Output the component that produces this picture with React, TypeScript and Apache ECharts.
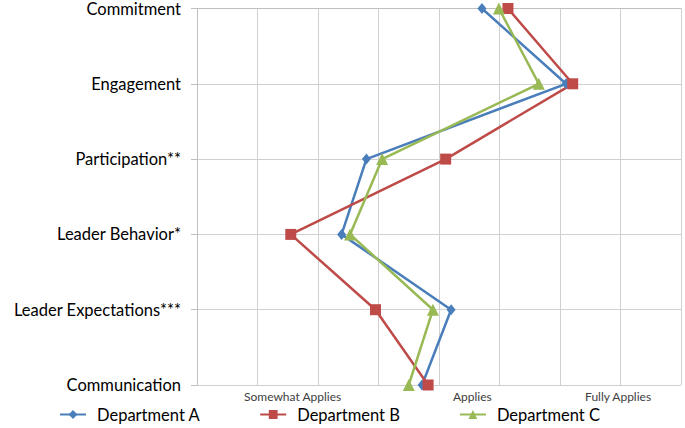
import React, { useEffect, useRef } from "react";
import * as echarts from "echarts";

const categories = [
  "Commitment",
  "Engagement",
  "Participation**",
  "Leader Behavior*",
  "Leader Expectations***",
  "Communication",
];
const deptA = [4.71, 6.1, 2.8, 2.39, 4.2, 3.72];
const deptB = [5.14, 6.21, 4.11, 1.55, 2.95, 3.82];
const deptC = [4.99, 5.65, 3.06, 2.53, 3.9, 3.5];
const seriesNames = ["Department A", "Department B", "Department C"];
const xLabelValues = [1.58, 4.55, 6.96];
const xLabelTexts = ["Somewhat Applies", "Applies", "Fully Applies"];

const colors = ["#4A7EBB", "#BE4B48", "#98B954"];
const symbols = ["diamond", "rect", "triangle"];
const symbolSizes = [[9, 11], 11, 12];

export default function App() {
  const ref = useRef<HTMLDivElement>(null);
  useEffect(() => {
    document.body.style.margin = "0";
    if (!ref.current) return;
    const chart = echarts.init(ref.current, null, { renderer: "svg" });
    const all = [deptA, deptB, deptC];
    const font = "Lato, 'Open Sans', sans-serif";
    chart.setOption({
      animation: false,
      textStyle: { fontFamily: font },
      grid: { left: 197, right: 4, top: 8, bottom: 43, containLabel: false },
      xAxis: {
        type: "value",
        min: 0,
        max: 8,
        interval: 1,
        axisLine: { show: true, lineStyle: { color: "#BFBFBF", width: 1 } },
        axisTick: { show: false },
        splitLine: { show: true, lineStyle: { color: "#D0D0D0", width: 1 } },
        axisLabel: {
          customValues: xLabelValues,
          formatter: (v: number) => {
            const i = xLabelValues.indexOf(v);
            return i >= 0 ? xLabelTexts[i] : "";
          },
          color: "#404040",
          fontSize: 12,
          margin: 5,
          fontFamily: font,
        },
      },
      yAxis: {
        type: "value",
        inverse: true,
        min: 0,
        max: categories.length - 1,
        interval: 0.5,
        axisLine: { show: true, lineStyle: { color: "#BFBFBF", width: 1 } },
        axisTick: {
          show: true,
          length: 6,
          customValues: categories.map((_, i) => i),
          lineStyle: { color: "#BFBFBF" },
        },
        splitLine: { show: true, lineStyle: { color: "#D0D0D0", width: 1 } },
        axisLabel: {
          customValues: categories.map((_, i) => i),
          formatter: (v: number) =>
            Number.isInteger(v) ? categories[v] ?? "" : "",
          color: "#000000",
          fontSize: 16.5,
          margin: 16,
          fontFamily: font,
        },
      },
      legend: {
        top: 406,
        left: 59,
        padding: 0,
        itemWidth: 26,
        itemHeight: 11,
        itemGap: 59,
        textStyle: {
          fontSize: 16.5,
          color: "#000000",
          fontFamily: font,
          padding: [0, 0, 0, 6],
        },
        data: seriesNames,
      },
      series: seriesNames.map((name, s) => ({
        name,
        type: "line",
        data: categories.map((_, i) => [all[s][i], i]),
        color: colors[s],
        lineStyle: { width: 2.5, color: colors[s] },
        symbol: symbols[s],
        symbolSize: symbolSizes[s],
        itemStyle: { color: colors[s] },
        showSymbol: true,
      })),
    });
    return () => chart.dispose();
  }, []);
  return <div ref={ref} style={{ width: 685, height: 428 }} />;
}
